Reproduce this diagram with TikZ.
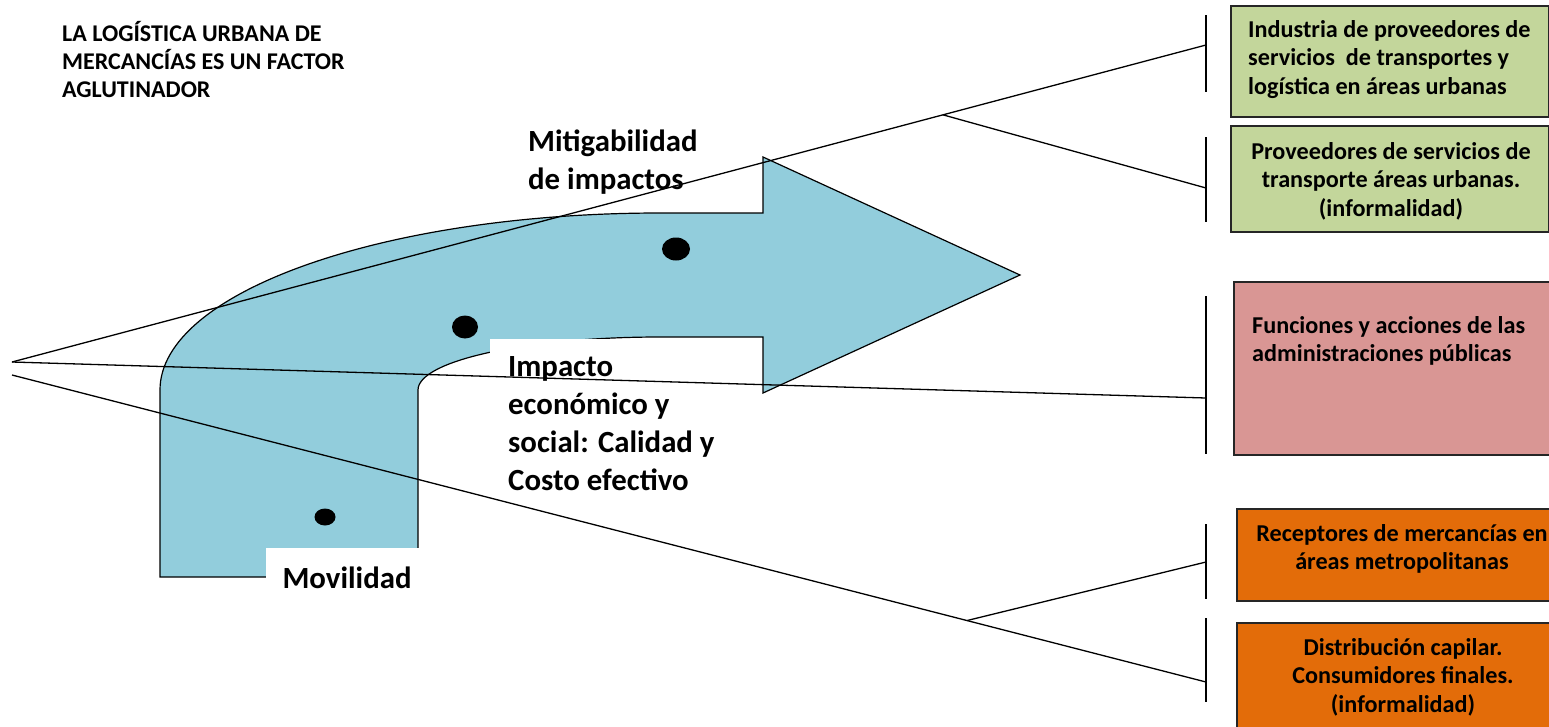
\documentclass[tikz,border=0pt]{standalone}
\usepackage{fontspec}
\setmainfont{Carlito}
\usetikzlibrary{calc}
\definecolor{arrowblue}{HTML}{92CDDC}
\definecolor{boxgreen}{HTML}{C3D69B}
\definecolor{boxpink}{HTML}{D99694}
\definecolor{boxorange}{HTML}{E36C09}
\begin{document}
\begin{tikzpicture}[x=1pt,y=-1pt,line join=miter,
  conn/.style={draw=black,line width=1.3pt},
  brack/.style={draw=black,line width=1.3pt},
  boxnode/.style={draw=black!85,line width=1.6pt,inner sep=0pt,rectangle,anchor=north west},
  lbl/.style={font=\fontsize{30.8}{38}\selectfont\bfseries,inner sep=0pt,align=left},
  boxtxt/.style={font=\fontsize{24.2}{28.5}\selectfont\bfseries,inner sep=0pt},
  toptxt/.style={font=\fontsize{24}{28}\selectfont\bfseries,inner sep=0pt,align=left}]
\clip (0,0) rectangle (1549,726);
\fill[white] (0,0) rectangle (1549,726);

% big bent arrow
\draw[fill=arrowblue,line width=1.2pt]
  (160,577) -- (160,390)
  .. controls (160,292.2) and (383.9,213) .. (660,213)
  -- (763,213) -- (763,157) -- (1020,275) -- (763,393) -- (763,337)
  -- (660,337)
  .. controls (526.3,337) and (418,360.7) .. (418,390)
  -- (418,577) -- cycle;

% white label backgrounds
\fill[white] (490,338.5) rectangle (760,500);
\fill[white] (266,548) rectangle (430,612);

% right boxes
\node[boxnode,fill=boxgreen,minimum width=318pt,minimum height=111pt] (box1) at (1230,5) {};
\node[boxnode,fill=boxgreen,minimum width=318pt,minimum height=106pt] (box2) at (1230,125) {};
\node[boxnode,fill=boxpink,minimum width=330pt,minimum height=173pt] (box3) at (1233,281) {};
\node[boxnode,fill=boxorange,minimum width=330pt,minimum height=92pt] (box4) at (1236,508) {};
\node[boxnode,fill=boxorange,minimum width=330pt,minimum height=120pt] (box5) at (1236,622) {};

% brackets
\coordinate (b1t) at (1206,15);  \coordinate (b1b) at (1206,92);  \coordinate (h1) at (1206,45);
\coordinate (b2t) at (1206,137); \coordinate (b2b) at (1206,222); \coordinate (h2) at (1206,188);
\coordinate (b3t) at (1206,296); \coordinate (b3b) at (1206,454); \coordinate (h3) at (1206,398);
\coordinate (b4t) at (1206,524); \coordinate (b4b) at (1206,599); \coordinate (h4) at (1206,562);
\coordinate (b5t) at (1206,618); \coordinate (b5b) at (1206,702); \coordinate (h5) at (1206,682);
\draw[brack] (b1t) -- (b1b);
\draw[brack] (b2t) -- (b2b);
\draw[brack] (b3t) -- (b3b);
\draw[brack] (b4t) -- (b4b);
\draw[brack] (b5t) -- (b5b);

% connectors
\coordinate (o1) at (12,362);
\coordinate (o2) at (12,375);
\coordinate (br1) at ($(o1)!0.7797!(h1)$);
\coordinate (br2) at ($(o2)!0.7998!(h5)$);
\draw[conn] (o1) -- (h1);
\draw[conn] (br1) -- (h2);
\draw[conn] (o1) -- (h3);
\draw[conn] (o2) -- (h5);
\draw[conn] (br2) -- (h4);

% labels
\node[toptxt,anchor=west] (title) at (62,60) {LA LOGÍSTICA URBANA DE\\MERCANCÍAS ES UN FACTOR\\AGLUTINADOR};
\node[lbl,anchor=west] (mitig) at (528,162) {Mitigabilidad\\de impactos};
\node[lbl,anchor=west] (impacto) at (508,424) {Impacto\\económico y\\social: Calidad y\\Costo efectivo};
\node[lbl] (movil) at (347,578) {Movilidad};

\node[boxtxt,align=left,anchor=west] (t1) at (1248,59.5) {Industria de proveedores de\\servicios\ \ de transportes y\\logística en áreas urbanas};
\node[boxtxt,align=center] (t2) at (1391,181) {Proveedores de servicios de\\transporte áreas urbanas.\\(informalidad)};
\node[boxtxt,align=left,anchor=west] (t3) at (1252,341) {Funciones y acciones de las\\administraciones públicas};
\node[boxtxt,align=center] (t4) at (1402,549) {Receptores de mercancías en\\áreas metropolitanas};
\node[boxtxt,align=center] (t5) at (1403,677) {Distribución capilar.\\Consumidores finales.\\(informalidad)};

% dots
\fill (676,249) ellipse [x radius=14pt,y radius=11.5pt];
\fill (465,327) ellipse [x radius=13pt,y radius=11.5pt];
\fill (325,517) ellipse [x radius=10.5pt,y radius=8.5pt];
\end{tikzpicture}
\end{document}
